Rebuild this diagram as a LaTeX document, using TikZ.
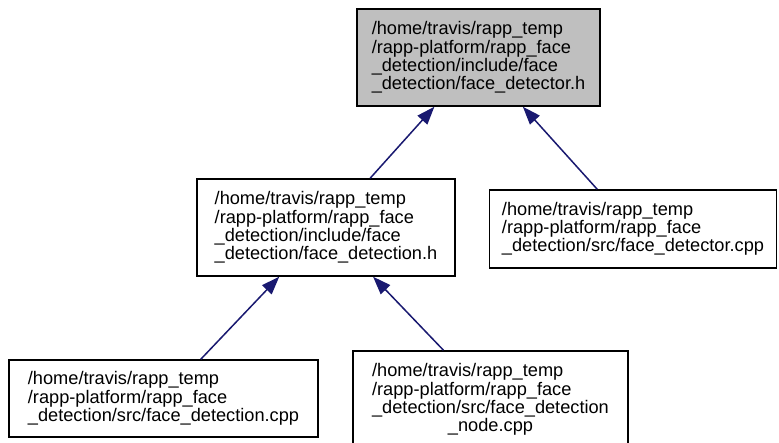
\documentclass[tikz,border=0pt]{standalone}
\usepackage{fontspec}
\setmainfont{Liberation Sans}
\usepackage{xcolor}
\usepackage{tikz}
\usetikzlibrary{shapes,arrows,arrows.meta}
\tikzstyle{fileblock} = [rectangle, draw, line width=1.5pt, align=left, inner sep=0pt, font=\fontsize{18.2}{18.3}\selectfont]
\tikzstyle{rootblock} = [fileblock, fill=bgray]
\tikzstyle{incl} = [draw, ->, line width=1.5pt, color=bnavy]
\definecolor{bgray}{HTML}{BFBFBF}
\definecolor{bnavy}{HTML}{191970}

\begin{document}
\begin{tikzpicture}[x=1pt, y=1pt, >={Triangle[length=18pt, width=13pt]}]
    \clip (0, 0) rectangle (779, 443);
    \fill[white] (0, 0) rectangle (779, 443);

    % files
    \node[rootblock, minimum width=243pt, minimum height=97pt] at (478.5, 385.5) (detector) {/home/travis/rapp\_temp\\/rapp-platform/rapp\_face\\\_detection/include/face\\\_detection/face\_detector.h};
    \node[fileblock, minimum width=258pt, minimum height=97pt] at (326, 215.5) (detection) {/home/travis/rapp\_temp\\/rapp-platform/rapp\_face\\\_detection/include/face\\\_detection/face\_detection.h};
    \node[fileblock, minimum width=287pt, minimum height=78pt] at (633, 214) (detectorcpp) {/home/travis/rapp\_temp\\/rapp-platform/rapp\_face\\\_detection/src/face\_detector.cpp};
    \node[fileblock, minimum width=309pt, minimum height=77pt] at (163.5, 44.5) (detectioncpp) {/home/travis/rapp\_temp\\/rapp-platform/rapp\_face\\\_detection/src/face\_detection.cpp};
    \node[fileblock, minimum width=275pt, minimum height=97pt] at (490.5, 43.5) (nodecpp) {/home/travis/rapp\_temp\\/rapp-platform/rapp\_face\\\_detection/src/face\_detection\\\hfill\_node.cpp\hfill\hbox{}};

    % includes
    \path[incl] (detection) -- (detector);
    \path[incl] (detectorcpp) -- (detector);
    \path[incl] (detectioncpp) -- (detection);
    \path[incl] (nodecpp) -- (detection);

\end{tikzpicture}
\end{document}
